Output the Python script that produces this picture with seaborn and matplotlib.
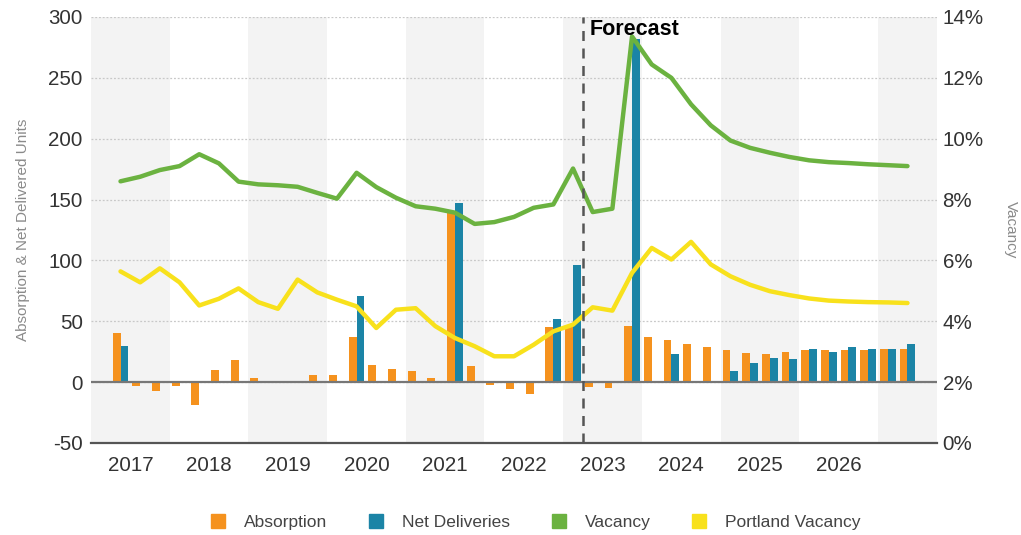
## Absorption / deliveries bars with vacancy lines on a twin axis
import numpy as np
import pandas as pd
import matplotlib.pyplot as plt
import matplotlib.ticker as mticker
from matplotlib.patches import Patch
import seaborn as sns

nan = np.nan
years = list(range(2017, 2028))
quarters = [f"{y} Q{q}" for y in years for q in range(1, 5)][:43]  # 2017 Q1 .. 2027 Q3

absorption = [nan, 40, -3, -7, -3, -19, 10, 18, 3, 1, 1, 6, 6, 37, 14, 11, 9, 3, 139, 13,
              -2, -6, -10, 45, 46, -4, -5, 46, 37, 35, 31, 29, 26, 24, 23, 25, 26, 26, 26, 26,
              27, 27, nan]
net_deliveries = [nan, 30, 0, 0, 0, 0, 0, 0, 0, 0, 0, 0, 0, 71, 0, 0, 0, 0, 147, 0,
                  0, 0, 0, 52, 96, 0, 0, 282, 0, 23, 0, 0, 9, 16, 20, 19, 27, 25, 29, 27,
                  27, 31, nan]
vacancy = [nan, 8.6, 8.75, 8.97, 9.1, 9.49, 9.19, 8.59, 8.5, 8.47, 8.42, 8.22, 8.03, 8.88,
           8.41, 8.06, 7.78, 7.7, 7.57, 7.2, 7.26, 7.43, 7.73, 7.84, 9.02, 7.59, 7.7, 13.36,
           12.44, 12.0, 11.13, 10.44, 9.94, 9.7, 9.54, 9.4, 9.29, 9.23, 9.2, 9.16, 9.13, 9.1, nan]
portland_vacancy = [nan, 5.64, 5.28, 5.74, 5.28, 4.52, 4.74, 5.08, 4.63, 4.41, 5.37, 4.95,
                    4.71, 4.49, 3.78, 4.38, 4.43, 3.84, 3.45, 3.18, 2.85, 2.85, 3.23, 3.67,
                    3.89, 4.46, 4.35, 5.59, 6.41, 6.03, 6.61, 5.87, 5.48, 5.2, 4.99, 4.86,
                    4.75, 4.68, 4.65, 4.63, 4.62, 4.6, nan]
forecast_start = "2023 Q2"

# colors
ORANGE, BLUE, GREEN, YELLOW = "#F5921E", "#1B84A6", "#6BB240", "#F8E11C"
TXT = "#333333"
FS = 14.8

sns.set_style("white")
plt.rcParams["font.family"] = ["Liberation Sans", "DejaVu Sans"]
plt.rcParams["axes.unicode_minus"] = False

bars = pd.DataFrame({"quarter": quarters * 2,
                     "value": absorption + net_deliveries,
                     "series": ["Absorption"] * 43 + ["Net Deliveries"] * 43})
lines = pd.DataFrame({"pos": np.arange(43), "vacancy": vacancy, "portland": portland_vacancy})

fig, ax = plt.subplots(figsize=(10.21, 5.35), dpi=100)
fig.subplots_adjust(left=91 / 1021, right=937 / 1021, top=1 - 17 / 535, bottom=1 - 443 / 535)

# alternate year shading
for k, y in enumerate(years):
    if k % 2 == 0:
        ax.axvspan(-0.5 + 4 * k, min(3.5 + 4 * k, 42.5), color="#F3F3F3", zorder=0, lw=0)

sns.barplot(data=bars, x="quarter", y="value", hue="series", order=quarters,
            palette=[ORANGE, BLUE], width=0.8, saturation=1, legend=False, ax=ax,
            zorder=2, linewidth=0)
ax.axhline(0, color="#777777", lw=1.6, zorder=3)

ax.set_ylim(-50, 300)
ax.set_xlim(-0.5, 42.5)
ax.set_yticks(range(-50, 301, 50))
ax.yaxis.grid(True, linestyle=(0, (1.5, 1.5)), color="#C8C8C8", lw=0.9)
ax.set_axisbelow(True)
ax.set_xlabel("")
ax.set_ylabel("Absorption & Net Delivered Units", color="#8A8A8A", fontsize=11, labelpad=13)

# x axis: year boundaries crossing, quarter ticks pointing up, year labels centred
ax.set_xticks([-0.5 + 4 * k for k in range(11)])
ax.set_xticklabels([])
ax.set_xticks(np.arange(-0.5, 43, 1), minor=True)
ax.tick_params(axis="x", which="major", direction="inout", length=16, width=1.6, color="#555555")
ax.tick_params(axis="x", which="minor", direction="in", length=6, width=1.0, color="#555555")
ax.tick_params(axis="y", length=0, labelsize=FS, labelcolor=TXT, pad=6)
for k, y in enumerate(years[:-1]):
    ax.text(1.5 + 4 * k, -0.03, str(y), transform=ax.get_xaxis_transform(),
            ha="center", va="top", fontsize=FS, color=TXT)

for s in ["top", "right", "left"]:
    ax.spines[s].set_visible(False)
ax.spines["bottom"].set_color("#555555")
ax.spines["bottom"].set_linewidth(1.6)

# vacancy lines on the right axis
ax2 = ax.twinx()
sns.lineplot(data=lines, x="pos", y="vacancy", color=GREEN, lw=3.2, ax=ax2, legend=False)
sns.lineplot(data=lines, x="pos", y="portland", color=YELLOW, lw=3.2, ax=ax2, legend=False)
ax2.set_ylim(0, 14)
ax2.set_yticks(range(0, 15, 2))
ax2.yaxis.set_major_formatter(mticker.FuncFormatter(lambda v, p: f"{v:.0f}%"))
ax2.tick_params(axis="y", length=0, labelsize=FS, labelcolor=TXT, pad=4)
ax2.set_xlabel("")
ax2.set_ylabel("Vacancy", color="#8A8A8A", fontsize=11, rotation=270, labelpad=25)
for s in ax2.spines.values():
    s.set_visible(False)
ax2.set_xlim(-0.5, 42.5)

# forecast divider
fx = quarters.index(forecast_start) - 0.5
ax2.axvline(fx, color="#555555", lw=1.8, ls=(0, (4, 3)), zorder=5)
ax2.text(fx + 0.35, 13.95, "Forecast", ha="left", va="top", fontsize=15.5,
         fontweight="bold", color="black")

handles = [Patch(color=c, label=l) for c, l in
           zip([ORANGE, BLUE, GREEN, YELLOW], ["Absorption", "Net Deliveries", "Vacancy", "Portland Vacancy"])]
fig.legend(handles=handles, loc="center", bbox_to_anchor=(0.525, 0.024), ncol=4, frameon=False,
           fontsize=12.5, labelcolor="#444444", handlelength=0.8, handleheight=0.8,
           handletextpad=1.1, columnspacing=2.4)

plt.savefig("out.png", dpi=100)
